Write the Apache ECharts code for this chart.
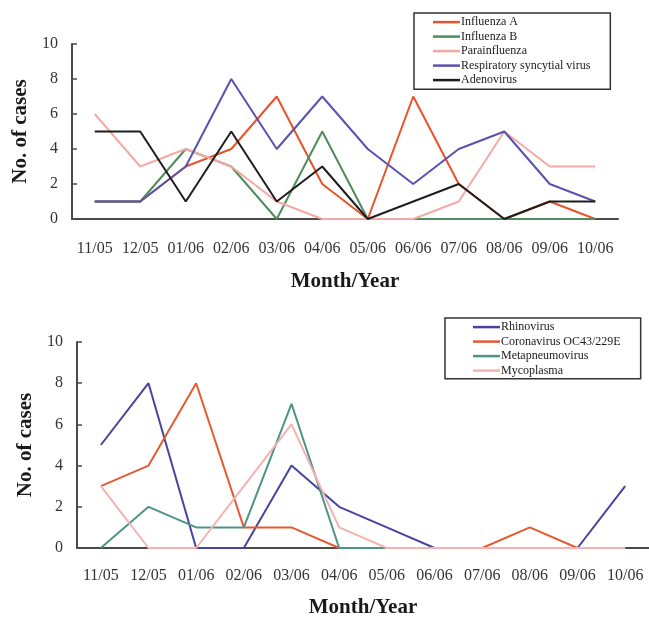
<!DOCTYPE html>
<html>
<head>
<meta charset="utf-8">
<title>Monthly cases</title>
<script src="https://cdn.jsdelivr.net/npm/echarts@6/dist/echarts.min.js"></script>
<style>
  html, body { margin: 0; padding: 0; background: #fff; }
  #chart { width: 649px; height: 619px; }
</style>
</head>
<body>
<div id="chart"></div>
<script>
// x categories shared by both panels
const months = ['11/05', '12/05', '01/06', '02/06', '03/06', '04/06', '05/06', '06/06', '07/06', '08/06', '09/06', '10/06']
const yTicks = [0, 2, 4, 6, 8, 10]

// top panel
const influenzaA = [1, 1, 3, 4, 7, 2, 0, 7, 2, 0, 1, 0]
const influenzaB = [1, 1, 4, 3, 0, 5, 0, 0, 0, 0, 0, 0]
const parainfluenza = [6, 3, 4, 3, 1, 0, 0, 0, 1, 5, 3, 3]
const rsv = [1, 1, 3, 8, 4, 7, 4, 2, 4, 5, 2, 1]
const adenovirus = [5, 5, 1, 5, 1, 3, 0, 1, 2, 0, 1, 1]

// bottom panel
const rhinovirus = [5, 8, 0, 0, 4, 2, 1, 0, 0, 0, 0, 3]
const coronavirus = [3, 4, 8, 1, 1, 0, 0, 0, 0, 1, 0, 0]
const metapneumovirus = [0, 2, 1, 1, 7, 0, 0, 0, 0, 0, 0, 0]
const mycoplasma = [3, 0, 0, 3, 6, 1, 0, 0, 0, 0, 0, 0]

const topSeries = [
  { name: 'Influenza A', data: influenzaA, color: '#e8532b' },
  { name: 'Influenza B', data: influenzaB, color: '#4f8c5c' },
  { name: 'Parainfluenza', data: parainfluenza, color: '#f2aaa6' },
  { name: 'Respiratory syncytial virus', data: rsv, color: '#5a52b0' },
  { name: 'Adenovirus', data: adenovirus, color: '#1e1e1e' }
]
const bottomSeries = [
  { name: 'Rhinovirus', data: rhinovirus, color: '#46449e' },
  { name: 'Coronavirus OC43/229E', data: coronavirus, color: '#e65a33' },
  { name: 'Metapneumovirus', data: metapneumovirus, color: '#4e9484' },
  { name: 'Mycoplasma', data: mycoplasma, color: '#f3b3b0' }
]

const serif = 'Liberation Serif'
const axisColor = '#4a4a4a'

function xAxisFor (gridIndex, labelMargin, nameGap) {
  return {
    gridIndex: gridIndex,
    type: 'category',
    data: months,
    boundaryGap: true,
    name: 'Month/Year',
    nameLocation: 'middle',
    nameGap: nameGap,
    nameTextStyle: { fontFamily: serif, fontSize: 21, fontWeight: 'bold', color: '#1a1a1a' },
    axisLine: { lineStyle: { color: axisColor, width: 2 } },
    axisTick: { inside: true, length: 5, lineStyle: { color: axisColor, width: 1.5 } },
    axisLabel: { interval: 0, margin: labelMargin, fontFamily: serif, fontSize: 16, color: '#333' },
    splitLine: { show: false }
  }
}

function yAxisFor (gridIndex, nameGap) {
  return {
    gridIndex: gridIndex,
    type: 'value',
    min: yTicks[0],
    max: yTicks[yTicks.length - 1],
    interval: 2,
    name: 'No. of cases',
    nameLocation: 'middle',
    nameGap: nameGap,
    nameTextStyle: { fontFamily: serif, fontSize: 21, fontWeight: 'bold', color: '#1a1a1a' },
    axisLine: { show: true, lineStyle: { color: axisColor, width: 2 } },
    axisTick: { show: true, inside: true, length: 5, lineStyle: { color: axisColor, width: 1.5 } },
    axisLabel: { margin: 14, fontFamily: serif, fontSize: 16, color: '#333' },
    splitLine: { show: false }
  }
}

function legendFor (items, left, top, pad) {
  return {
    data: items.map(s => s.name),
    orient: 'vertical',
    left: left,
    top: top,
    icon: 'rect',
    itemWidth: 27,
    itemHeight: 2.5,
    itemGap: 2.3,
    padding: pad,
    borderColor: '#333',
    borderWidth: 1.5,
    backgroundColor: '#fff',
    selectedMode: false,
    textStyle: { fontFamily: serif, fontSize: 12, color: '#1a1a1a', lineHeight: 12.2, padding: [0, 0, 0, -4] }
  }
}

function lines (items, idx) {
  return items.map(s => ({
    name: s.name,
    type: 'line',
    xAxisIndex: idx,
    yAxisIndex: idx,
    data: s.data,
    color: s.color,
    symbol: 'none',
    lineStyle: { width: 2, color: s.color },
    emphasis: { disabled: true }
  }))
}

const myChart = echarts.init(document.getElementById('chart'))
const option = {
  animation: false,
  backgroundColor: '#fff',
  grid: [
    { left: 72, top: 44, width: 546, height: 175 },
    { left: 77, top: 342, width: 574, height: 207 }
  ],
  legend: [
    legendFor(topSeries, 414, 13, [3, 20, 3, 19]),
    legendFor(bottomSeries, 445, 318, [3, 20, 2, 28])
  ],
  xAxis: [xAxisFor(0, 22, 52), xAxisFor(1, 20, 49)],
  yAxis: [yAxisFor(0, 41), yAxisFor(1, 41)],
  series: lines(topSeries, 0).concat(lines(bottomSeries, 1))
}
myChart.setOption(option)
</script>
</body>
</html>
